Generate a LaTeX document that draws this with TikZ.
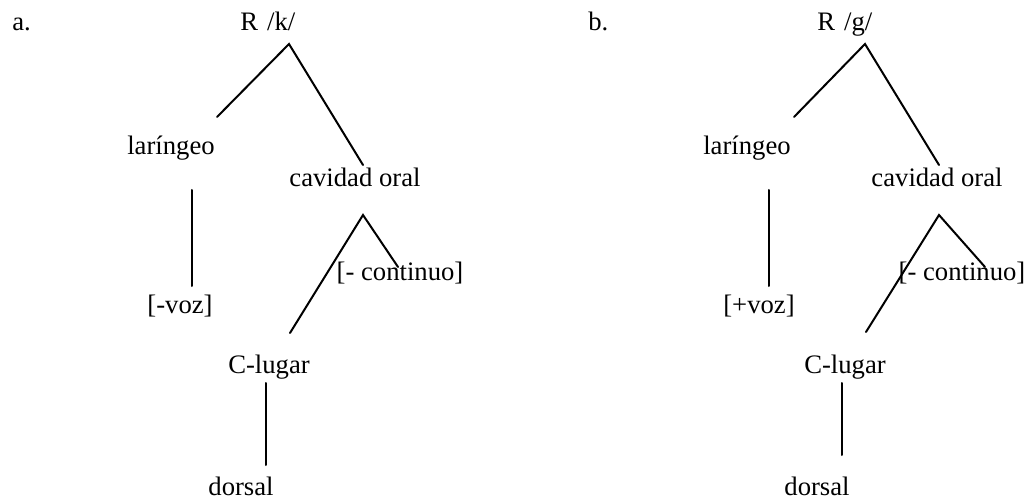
\documentclass[tikz,border=0pt]{standalone}
\usepackage{fontspec}
\setmainfont{Liberation Serif}
\begin{document}
\begin{tikzpicture}[x=0.75pt,y=-0.75pt,
  lbl/.style={anchor=base,inner sep=0pt,font=\fontsize{20}{24}\selectfont},
  lblw/.style={anchor=base west,inner sep=0pt,font=\fontsize{20}{24}\selectfont},
  edge/.style={line width=1.5pt,line cap=round}]
\useasboundingbox (0,0) rectangle (1025,499);
% ---------- panel a ----------
\node[lblw] (alab) at (12,31) {a.};
\node[lblw] (aR) at (240,31) {R\hspace{0.34em}/k/};
\node[lbl] (alar) at (171,155) {laríngeo};
\node[lbl] (acav) at (355,187) {cavidad oral};
\node[lbl] (avoz) at (180,313) {[-voz]};
\node[lbl] (acont) at (400,281) {[- continuo]};
\node[lbl] (aclug) at (269,373) {C-lugar};
\node[lbl] (ador) at (241,495) {dorsal};
\coordinate (aRtop) at (289,44);
\coordinate (aRl) at (217,117);
\coordinate (aRr) at (363,165);
\coordinate (alart) at (192,190);
\coordinate (alarb) at (192,286);
\coordinate (acavt) at (363,215);
\coordinate (acontt) at (398,267);
\coordinate (aclugt) at (290,333);
\coordinate (aclugb) at (266,383);
\coordinate (adort) at (266,465);
\draw[edge] (aRl) -- (aRtop) -- (aRr);
\draw[edge] (alart) -- (alarb);
\draw[edge] (aclugt) -- (acavt) -- (acontt);
\draw[edge] (aclugb) -- (adort);
% ---------- panel b ----------
\node[lblw] (blab) at (588,31) {b.};
\node[lblw] (bR) at (817,31) {R\hspace{0.34em}/g/};
\node[lbl] (blar) at (747,155) {laríngeo};
\node[lbl] (bcav) at (937,187) {cavidad oral};
\node[lbl] (bvoz) at (759,313) {[+voz]};
\node[lbl] (bcont) at (962,281) {[- continuo]};
\node[lbl] (bclug) at (845,373) {C-lugar};
\node[lbl] (bdor) at (817,495) {dorsal};
\coordinate (bRtop) at (865,44);
\coordinate (bRl) at (794,117);
\coordinate (bRr) at (939,165);
\coordinate (blart) at (769,190);
\coordinate (blarb) at (769,286);
\coordinate (bcavt) at (939,215);
\coordinate (bcontt) at (985,267);
\coordinate (bclugt) at (866,332);
\coordinate (bclugb) at (842,383);
\coordinate (bdort) at (842,455);
\draw[edge] (bRl) -- (bRtop) -- (bRr);
\draw[edge] (blart) -- (blarb);
\draw[edge] (bclugt) -- (bcavt) -- (bcontt);
\draw[edge] (bclugb) -- (bdort);
\end{tikzpicture}
\end{document}
